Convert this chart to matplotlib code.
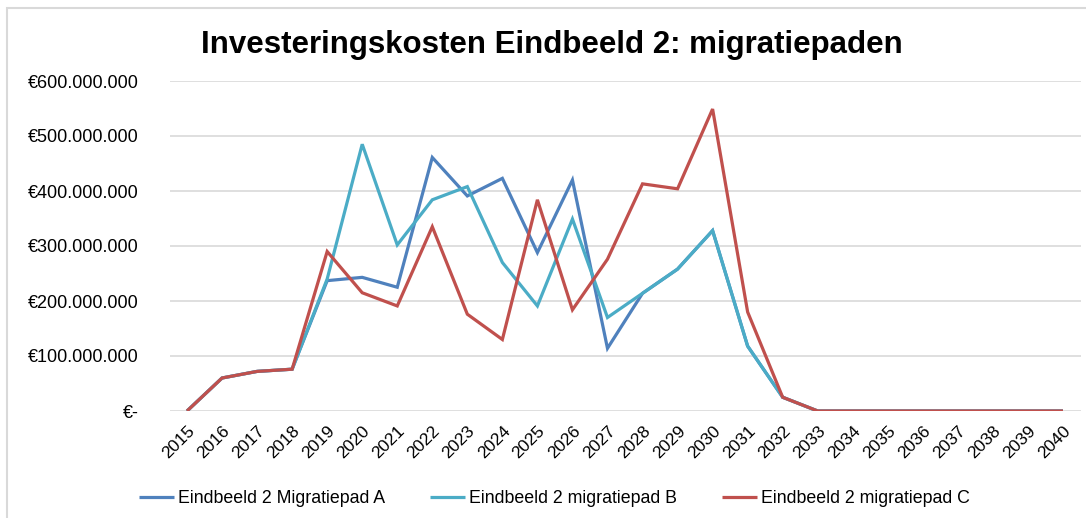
import matplotlib
matplotlib.use("Agg")
import matplotlib.pyplot as plt
from matplotlib.ticker import FuncFormatter
from matplotlib.patches import Rectangle

years = [str(y) for y in range(2015, 2041)]
pad_a = [0, 60, 72, 76, 237, 243, 225, 461, 391, 423, 288, 420, 114, 214, 258, 328, 118, 25,
         0, 0, 0, 0, 0, 0, 0, 0]
pad_b = [0, 60, 72, 76, 240, 485, 302, 384, 408, 270, 191, 349, 170, 214, 258, 328, 118, 25,
         0, 0, 0, 0, 0, 0, 0, 0]
pad_c = [0, 60, 72, 76, 290, 215, 191, 335, 176, 130, 384, 184, 276, 413, 404, 549, 180, 25,
         0, 0, 0, 0, 0, 0, 0, 0]
labels = ["Eindbeeld 2 Migratiepad A", "Eindbeeld 2 migratiepad B", "Eindbeeld 2 migratiepad C"]
colors = ["#4F81BD", "#4BACC6", "#C0504D"]
title = "Investeringskosten Eindbeeld 2: migratiepaden"

plt.rcParams['font.family'] = ['Liberation Sans', 'DejaVu Sans']

fig = plt.figure(figsize=(10.86, 5.18), dpi=100)
ax = fig.add_axes([169.5/1086, (518-411)/518, 911/1086, 330/518])

x = list(range(len(years)))
scale = 1e6
for vals, lab, col in zip([pad_a, pad_b, pad_c], labels, colors):
    ax.plot(x, [v*scale for v in vals], color=col, lw=2.3, label=lab,
            solid_joinstyle='miter', solid_capstyle='butt')

ax.set_xlim(-0.5, len(years)-0.5)
ax.set_ylim(0, 600e6)
ax.set_yticks([i*100e6 for i in range(7)])

def fmt(v, pos):
    if v == 0:
        return "€-"
    return "€" + f"{int(round(v)):,}".replace(",", ".")

ax.yaxis.set_major_formatter(FuncFormatter(fmt))
ax.set_xticks(x)
ax.set_xticklabels(years, rotation=45, ha='right', rotation_mode='anchor', fontsize=12.5)
ax.tick_params(axis='x', length=0, pad=9)
ax.tick_params(axis='y', length=0, pad=22, labelsize=13)
ax.grid(axis='y', color='#D9D9D9', lw=1.2)
ax.set_axisbelow(True)
for s in ax.spines.values():
    s.set_visible(False)

fig.text(0.508, 0.913, title, ha='center', va='center', fontsize=22.5, fontweight='bold')

fig.legend(loc='center', bbox_to_anchor=(0.5106, 0.038), ncol=3, frameon=False,
           fontsize=12.8, handlelength=2.0, handletextpad=0.22, columnspacing=2.5)

fig.patches.append(Rectangle((7/1086, -0.1), 1.2, (518-8)/518 + 0.1, transform=fig.transFigure,
                             fill=False, edgecolor='#D9D9D9', lw=1.5))

fig.savefig("out.png", dpi=100)
